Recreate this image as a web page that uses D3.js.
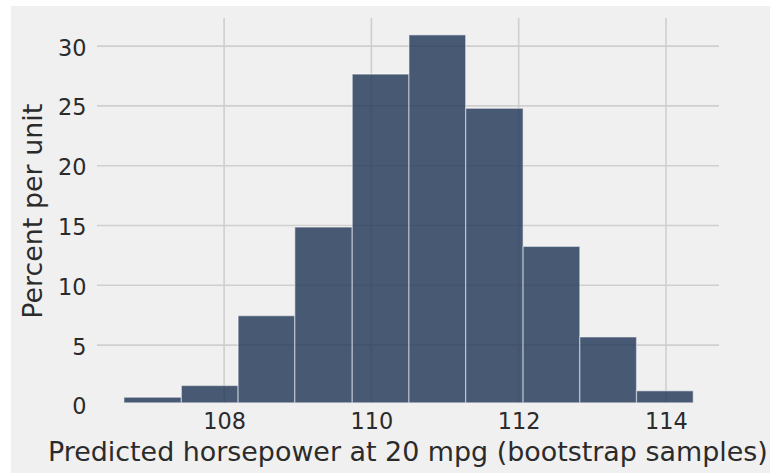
<!DOCTYPE html>
<html>
<head>
<meta charset="utf-8">
<script src="https://cdn.jsdelivr.net/npm/d3@7"></script>
<style>
  html, body { margin: 0; padding: 0; background: #ffffff; }
  svg { display: block; }
  text { font-family: "DejaVu Sans", sans-serif; fill: #2b2b2b; }
</style>
</head>
<body>
<script>
// ---- Data ----
const binEdges = [106.64, 107.42, 108.19, 108.96, 109.74, 110.51, 111.28, 112.06, 112.83, 113.60, 114.37];
const percentPerUnit = [0.64, 1.62, 7.46, 14.87, 27.66, 30.94, 24.80, 13.25, 5.68, 1.18];
const xTicks = [108, 110, 112, 114];
const yTicks = [0, 5, 10, 15, 20, 25, 30];
const xLabel = "Predicted horsepower at 20 mpg (bootstrap samples)";
const yLabel = "Percent per unit";

// ---- Layout ----
const W = 770, H = 473;
const plot = { left: 96.7, right: 719, top: 18, bottom: 402.5 };
const xDomain = [106.27, 114.72];
const yDomain = [0.2, 32.35];

const svg = d3.select("body").append("svg").attr("width", W).attr("height", H);

// figure background (white strip on top/left as in the reference)
svg.append("rect").attr("x", 11).attr("y", 6).attr("width", W - 11).attr("height", H - 6).attr("fill", "#f0f0f0");

const x = d3.scaleLinear().domain(xDomain).range([plot.left, plot.right]);
const y = d3.scaleLinear().domain(yDomain).range([plot.bottom, plot.top]);

// clip for the plotting area
svg.append("defs").append("clipPath").attr("id", "plotclip")
  .append("rect").attr("x", plot.left).attr("y", plot.top)
  .attr("width", plot.right - plot.left).attr("height", plot.bottom - plot.top);

// ---- Grid ----
const grid = svg.append("g").attr("clip-path", "url(#plotclip)");
grid.selectAll("line.hg").data(yTicks.filter(t => t >= yDomain[0] && t <= yDomain[1])).join("line")
  .attr("class", "hg")
  .attr("x1", plot.left).attr("x2", plot.right)
  .attr("y1", d => y(d)).attr("y2", d => y(d))
  .attr("stroke", "#cfcfcf").attr("stroke-width", 1.6);
grid.selectAll("line.vg").data(xTicks).join("line")
  .attr("class", "vg")
  .attr("x1", d => x(d)).attr("x2", d => x(d))
  .attr("y1", plot.top).attr("y2", plot.bottom)
  .attr("stroke", "#cfcfcf").attr("stroke-width", 1.6);

// ---- Bars ----
const bins = percentPerUnit.map((v, i) => ({ x0: binEdges[i], x1: binEdges[i + 1], v }));
svg.append("g").attr("clip-path", "url(#plotclip)")
  .selectAll("rect").data(bins).join("rect")
  .attr("x", d => x(d.x0))
  .attr("width", d => x(d.x1) - x(d.x0))
  .attr("y", d => y(d.v))
  .attr("height", d => y(0) - y(d.v))
  .attr("fill", "rgb(29,51,84)")
  .attr("fill-opacity", 0.8)
  .attr("stroke", "#ffffff")
  .attr("stroke-opacity", 0.45)
  .attr("stroke-width", 1.3);

// ---- Axes (d3 axes, domain and tick marks hidden, matplotlib-style) ----
const xAxis = d3.axisBottom(x).tickValues(xTicks).tickFormat(d3.format("d")).tickSize(0).tickPadding(0);
const gx = svg.append("g").attr("transform", `translate(0, ${plot.bottom})`).call(xAxis);
gx.select(".domain").remove();
gx.selectAll("text")
  .attr("y", 26.5).attr("dy", 0)
  .style("font-size", "22.4px").style("font-family", "'DejaVu Sans', sans-serif").attr("fill", "#2b2b2b");

const yAxis = d3.axisLeft(y).tickValues(yTicks).tickFormat(d3.format("d")).tickSize(0).tickPadding(0);
const gy = svg.append("g").attr("transform", `translate(${plot.left}, 0)`).call(yAxis);
gy.select(".domain").remove();
gy.selectAll("text")
  .attr("x", -10.2).attr("dy", "0.4em")
  .style("font-size", "22.4px").style("font-family", "'DejaVu Sans', sans-serif").attr("fill", "#2b2b2b");

// ---- Axis labels ----
svg.append("text")
  .attr("x", (plot.left + plot.right) / 2).attr("y", 461)
  .attr("text-anchor", "middle")
  .style("font-size", "26.9px")
  .text(xLabel);

svg.append("text")
  .attr("transform", `translate(42, ${(plot.top + plot.bottom) / 2 + 1}) rotate(-90)`)
  .attr("text-anchor", "middle")
  .style("font-size", "26.9px")
  .text(yLabel);
</script>
</body>
</html>
